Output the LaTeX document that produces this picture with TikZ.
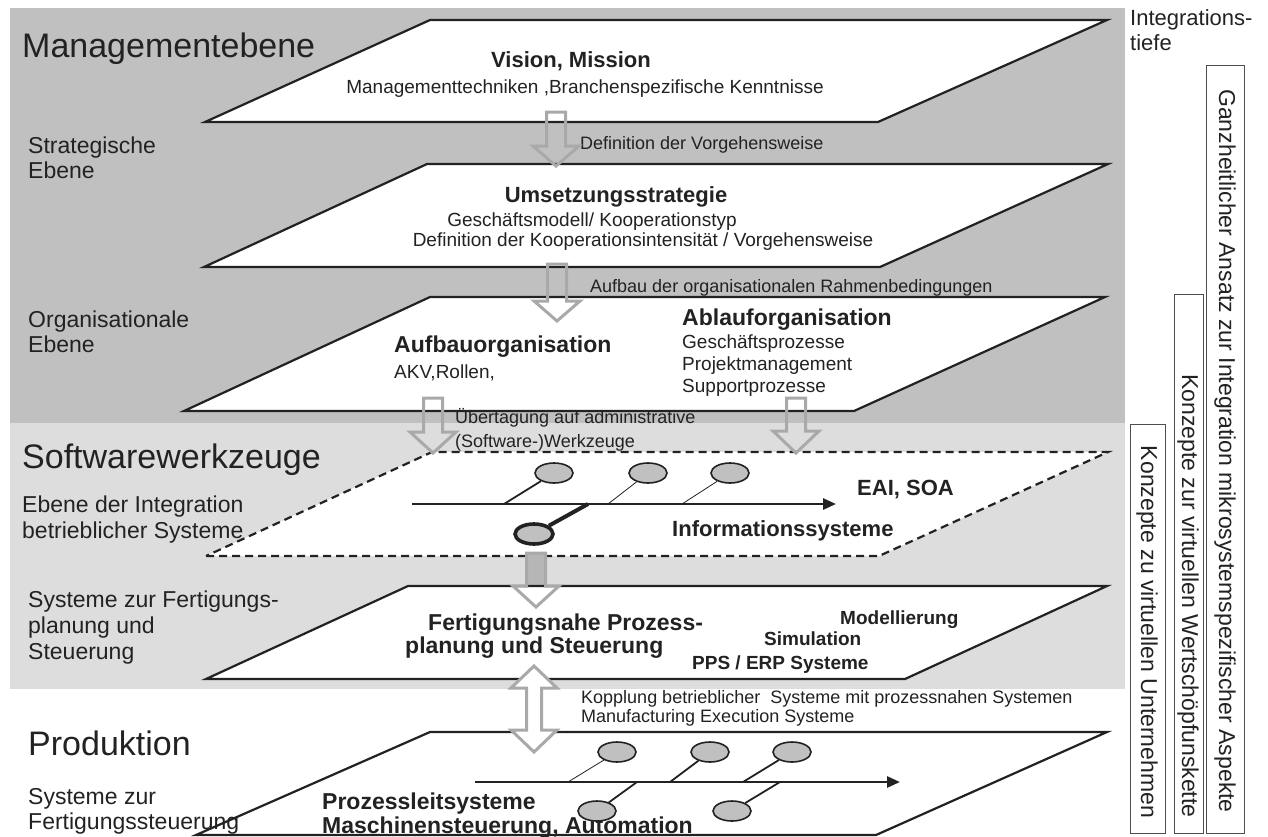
\documentclass[tikz,border=0pt]{standalone}
\usepackage{fontspec}
\setmainfont{Liberation Sans}
\usetikzlibrary{shapes.geometric,arrows.meta}

\definecolor{mgmtgray}{HTML}{C0C0C0}
\definecolor{toolgray}{HTML}{DDDDDD}
\definecolor{flowgray}{HTML}{A9A9A9}
\definecolor{flowfill}{HTML}{B6B6B6}
\definecolor{ink}{HTML}{222222}
\definecolor{knotgray}{HTML}{C0C0C0}

\newcommand\fsz[2]{\fontsize{#1}{#2}\selectfont}

% block arrow pointing down: [style] centre x, top, start of head, tip
\newcommand\downblock[5][]{%
  \draw[blockarrow,#1] (#2-9.5,#3) -- (#2+9.5,#3) -- (#2+9.5,#4) -- (#2+23,#4)
    -- (#2,#5) -- (#2-23,#4) -- (#2-9.5,#4) -- cycle;}

\begin{document}
\begin{tikzpicture}[x=1pt,y=-1pt,
  plane/.style={draw=ink,line width=2.2pt,fill=white,line join=miter},
  dashedplane/.style={plane,dash pattern=on 8pt off 5pt},
  blockarrow/.style={draw=flowgray,line width=3pt,line join=miter},
  title/.style={anchor=base west,inner sep=0pt,text=ink,font=\fsz{34}{40}},
  levellabel/.style={anchor=base west,inner sep=0pt,text=ink,font=\fsz{23}{27}},
  headline/.style={inner sep=0pt,text=ink,font=\fsz{22}{26}\bfseries},
  bighead/.style={anchor=base west,inner sep=0pt,text=ink,font=\fsz{23}{27}\bfseries},
  smallhead/.style={anchor=base west,inner sep=0pt,text=ink,font=\fsz{19}{22}\bfseries},
  body/.style={inner sep=0pt,text=ink,font=\fsz{19}{22}},
  flowlabel/.style={anchor=base west,inner sep=0pt,text=ink,font=\fsz{18}{21}},
  sidebox/.style={draw=ink!80,line width=0.9pt,fill=white},
  sidelabel/.style={rotate=-90,inner sep=0pt,text=ink,font=\fsz{23}{27}},
  knot/.style={ellipse,draw=ink,fill=knotgray,line width=1.6pt,
    minimum width=38pt,minimum height=20pt,inner sep=0pt},
  bus/.style={draw=ink,line width=2.6pt,-{Triangle[length=13pt,width=11pt]}},
  tapthin/.style={draw=ink,line width=0.8pt},
  tapmid/.style={draw=ink,line width=1.8pt},
  tapthick/.style={draw=ink,line width=4pt}]

\useasboundingbox (0,0) rectangle (1268,836);

% bands
\fill[mgmtgray] (10,8) rectangle (1125,423);
\fill[toolgray] (10,423) rectangle (1125,689);

% planes
\draw[plane] (205,122) -- (878,122) -- (1107,20) -- (430,20) -- cycle;
\draw[plane] (204,267) -- (880,267) -- (1108,164) -- (427,164) -- cycle;
\draw[plane] (184,411) -- (854,411) -- (1105,297) -- (430,297) -- cycle;
\draw[dashedplane] (206,556) -- (879,556) -- (1108,452) -- (432,452) -- cycle;
% shaft of the filled arrow sits under the planning plane
\downblock[draw=none,fill=flowfill]{536}{553}{586}{607}
\draw[plane] (206,679) -- (905,679) -- (1107,586) -- (408,586) -- cycle;
\draw[plane] (196,835) -- (876,835) -- (1107,732) -- (430,732) -- cycle;

% section titles and level labels
\node[title] (tMgmt) at (22,57) {Managementebene};
\node[title] (tSoft) at (22,468) {Softwarewerkzeuge};
\node[title] (tProd) at (28,755) {Produktion};

\node[levellabel] (lStrat1) at (28,153) {Strategische};
\node[levellabel] (lStrat2) at (28,178) {Ebene};
\node[levellabel] (lOrg1) at (28,327) {Organisationale};
\node[levellabel] (lOrg2) at (28,352) {Ebene};
\node[levellabel] (lInt1) at (22,512) {Ebene der Integration};
\node[levellabel] (lInt2) at (22,538) {betrieblicher Systeme};
\node[levellabel] (lPlan1) at (28,607) {Systeme zur Fertigungs-};
\node[levellabel] (lPlan2) at (28,633) {planung und};
\node[levellabel] (lPlan3) at (28,659) {Steuerung};
\node[levellabel] (lCtrl1) at (28,804) {Systeme zur};
\node[levellabel] (lCtrl2) at (28,829) {Fertigungssteuerung};

% plane 1
\node[headline,anchor=base] (vision) at (571,67) {Vision, Mission};
\node[body,anchor=base] (visionSub) at (585,93) {Managementtechniken ,Branchenspezifische Kenntnisse};
\node[flowlabel] (fDef) at (580,149) {Definition der Vorgehensweise};

% plane 2
\node[headline,anchor=base] (strategy) at (616,202) {Umsetzungsstrategie};
\node[body,anchor=base] (strategy1) at (592,226) {Geschäftsmodell/ Kooperationstyp};
\node[body,anchor=base] (strategy2) at (643,246) {Definition der Kooperationsintensität / Vorgehensweise};
\node[flowlabel] (fFrame) at (590,292) {Aufbau der organisationalen Rahmenbedingungen};

% plane 3
\node[bighead] (aufbau) at (394,352) {Aufbauorganisation};
\node[body,anchor=base west] (aufbau1) at (394,378) {AKV,Rollen,};
\node[bighead] (ablauf) at (682,325) {Ablauforganisation};
\node[body,anchor=base west] (ablauf1) at (682,348) {Geschäftsprozesse};
\node[body,anchor=base west] (ablauf2) at (682,370) {Projektmanagement};
\node[body,anchor=base west] (ablauf3) at (682,392) {Supportprozesse};
\node[flowlabel] (fTools1) at (455,423) {Übertagung auf administrative};
\node[flowlabel] (fTools2) at (455,447) {(Software-)Werkzeuge};

% plane 4: integration bus
\node[headline,anchor=base west] (eai) at (857,495) {EAI, SOA};
\node[headline,anchor=base west] (infosys) at (672,536) {Informationssysteme};
\coordinate (busAstart) at (412,504);
\coordinate (busAend) at (836,504);
\draw[bus] (busAstart) -- (busAend);
\node[knot] (e1) at (554,473) {};
\node[knot] (e2) at (648,473) {};
\node[knot] (e3) at (730,473) {};
\node[knot,line width=3.6pt] (e4) at (534,534) {};
\coordinate (tapA1) at (504,504);
\coordinate (tapA2) at (608,504);
\coordinate (tapA3) at (682,504);
\coordinate (tapA4) at (588,504);
\draw[tapmid] (e1) -- (tapA1);
\draw[tapthin] (e2) -- (tapA2);
\draw[tapthin] (e3) -- (tapA3);
\draw[tapthick] (e4) -- (tapA4);

% plane 5
\node[bighead] (fert1) at (428,630) {Fertigungsnahe Prozess-};
\node[bighead] (fert2) at (405,653) {planung und Steuerung};
\node[smallhead] (model) at (840,624) {Modellierung};
\node[smallhead] (simul) at (764,645) {Simulation};
\node[smallhead] (pps) at (692,669) {PPS / ERP Systeme};
\node[flowlabel] (fMes1) at (581,703) {Kopplung betrieblicher\ \ Systeme mit prozessnahen Systemen};
\node[flowlabel] (fMes2) at (581,722) {Manufacturing Execution Systeme};

% plane 6: field bus
\node[bighead] (plc1) at (322,809) {Prozessleitsysteme};
\node[bighead] (plc2) at (322,833) {Maschinensteuerung, Automation};
\coordinate (busBstart) at (475,782);
\coordinate (busBend) at (900,782);
\draw[bus] (busBstart) -- (busBend);
\node[knot] (f1) at (617,752) {};
\node[knot] (f2) at (710,752) {};
\node[knot] (f3) at (792,752) {};
\node[knot] (f4) at (597,811) {};
\node[knot] (f5) at (732,811) {};
\coordinate (tapB1) at (568,782);
\coordinate (tapB2) at (670,782);
\coordinate (tapB3) at (743,782);
\coordinate (tapB4) at (637,782);
\coordinate (tapB5) at (780,782);
\draw[tapthin] (f1) -- (tapB1);
\draw[tapmid] (f2) -- (tapB2);
\draw[tapmid] (f3) -- (tapB3);
\draw[tapmid] (f4) -- (tapB4);
\draw[tapmid] (f5) -- (tapB5);

% flow arrows between the planes
\downblock{556}{112}{146}{166}
\downblock{557}{264}{301}{321}
\downblock{433}{398}{432}{453}
\downblock{796}{398}{431}{453}
\downblock{536}{553}{586}{607}
\draw[blockarrow,fill=white] (534,666) -- (557,688) -- (541.5,688) -- (541.5,730)
  -- (557,730) -- (534,752) -- (511,730) -- (526.5,730) -- (526.5,688) -- (511,688) -- cycle;

% integration depth column
\node[anchor=base west,inner sep=0pt,text=ink,font=\fsz{22}{26}] (depth1) at (1130,25) {Integrations-};
\node[anchor=base west,inner sep=0pt,text=ink,font=\fsz{22}{26}] (depth2) at (1130,50) {tiefe};
\draw[sidebox] (1206,65) rectangle (1244,833);
\draw[sidebox] (1174,294) rectangle (1203,833);
\draw[sidebox] (1130,424) rectangle (1165,833);
\node[sidelabel] (sideA) at (1225,451) {Ganzheitlicher Ansatz zur Integration mikrosystemspezifischer Aspekte};
\node[sidelabel] (sideB) at (1188,596) {Konzepte zur virtuellen Wertschöpfunskette};
\node[sidelabel] (sideC) at (1147,632) {Konzepte zu virtuellen Unternehmen};
\end{tikzpicture}
\end{document}
